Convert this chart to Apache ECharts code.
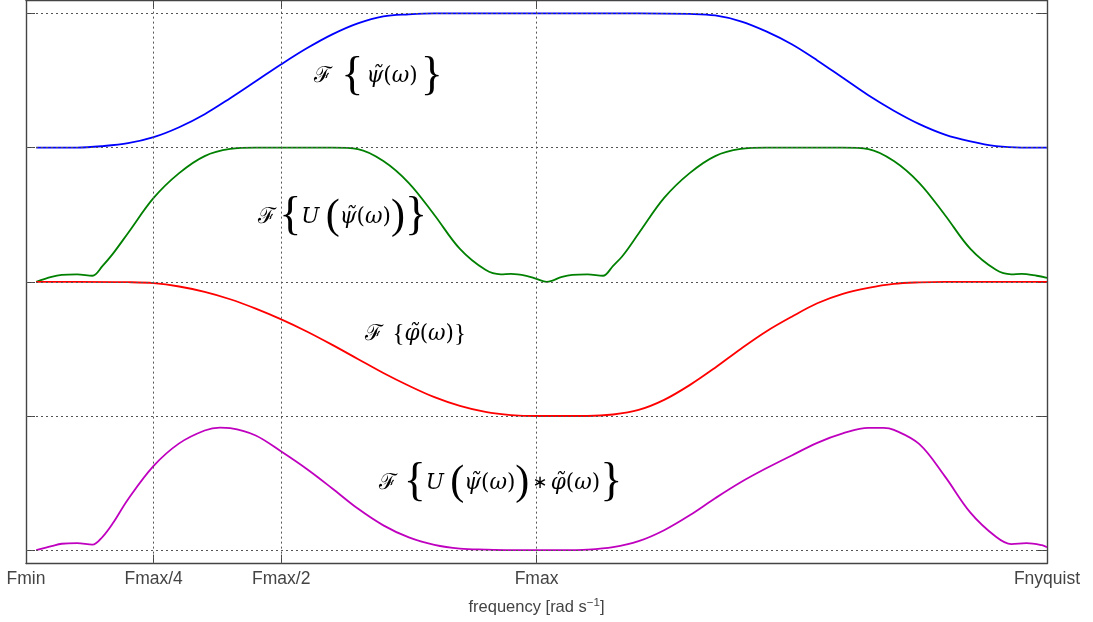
<!DOCTYPE html>
<html>
<head>
<meta charset="utf-8">
<script src="https://cdn.jsdelivr.net/npm/echarts@6/dist/echarts.min.js"></script>
<style>
  html, body { margin: 0; padding: 0; background: #fff; }
  #chart { width: 1093px; height: 622px; }
</style>
</head>
<body>
<div id="chart"></div>
<script>
// Frequency axis (units of Fmax) and its named ticks
const freqTicks = [0, 0.25, 0.5, 1, 2];
const freqTickLabels = ['Fmin', 'Fmax/4', 'Fmax/2', 'Fmax', 'Fnyquist'];
const levelTicks = [0, 1, 2, 3, 4];

// Wavelet spectrum |F{psi~}|, stacked on level 3
const psiFreq = [0.02, 0.05, 0.1, 0.15, 0.2, 0.25, 0.3, 0.35, 0.4, 0.45, 0.5, 0.55, 0.6, 0.65, 0.7, 0.75, 0.8, 0.9, 1.0, 1.1, 1.2, 1.3, 1.35, 1.4, 1.45, 1.5, 1.55, 1.6, 1.65, 1.7, 1.75, 1.8, 1.85, 1.9, 1.95, 2.0];
const psiMag  = [0, 0, 0, 0.011, 0.033, 0.078, 0.152, 0.249, 0.368, 0.494, 0.621, 0.74, 0.844, 0.926, 0.978, 0.993, 1, 1, 1, 1, 1, 0.996, 0.985, 0.941, 0.866, 0.77, 0.65, 0.52, 0.39, 0.275, 0.175, 0.097, 0.046, 0.011, 0, 0];

// Upsampled wavelet spectrum F{U(psi~)}, stacked on level 2
const upFreq = [0.02, 0.05, 0.07, 0.1, 0.13, 0.15, 0.17, 0.2, 0.25, 0.3, 0.35, 0.4, 0.45, 0.5, 0.55, 0.6, 0.65, 0.7, 0.75, 0.8, 0.85, 0.9, 0.93, 0.95, 0.98, 1.0,
                1.02, 1.05, 1.07, 1.1, 1.13, 1.15, 1.17, 1.2, 1.25, 1.3, 1.35, 1.4, 1.45, 1.5, 1.55, 1.6, 1.65, 1.7, 1.75, 1.8, 1.85, 1.9, 1.93, 1.95, 1.98, 2.0];
const upMag  = [0, 0.037, 0.052, 0.056, 0.045, 0.119, 0.208, 0.364, 0.625, 0.81, 0.937, 0.99, 1.0, 1.0, 1.0, 1.0, 0.989, 0.9, 0.736, 0.498, 0.245, 0.089, 0.056, 0.059, 0.045, 0.022,
                0, 0.037, 0.052, 0.056, 0.045, 0.119, 0.2, 0.36, 0.625, 0.81, 0.937, 0.99, 1.0, 1.0, 1.0, 1.0, 0.989, 0.9, 0.736, 0.498, 0.245, 0.089, 0.056, 0.059, 0.045, 0.03];

// Scaling-function spectrum F{phi~}, stacked on level 1
const phiFreq = [0.02, 0.1, 0.2, 0.25, 0.3, 0.35, 0.4, 0.45, 0.5, 0.55, 0.6, 0.65, 0.7, 0.75, 0.8, 0.85, 0.9, 0.95, 1.0, 1.1, 1.15, 1.2, 1.25, 1.3, 1.35, 1.4, 1.45, 1.5, 1.55, 1.6, 1.65, 1.7, 1.75, 1.8, 1.9, 2.0];
const phiMag  = [1, 1, 0.997, 0.99, 0.965, 0.925, 0.87, 0.8, 0.72, 0.63, 0.53, 0.425, 0.32, 0.225, 0.14, 0.075, 0.03, 0.007, 0, 0, 0.011, 0.045, 0.12, 0.23, 0.36, 0.5, 0.63, 0.74, 0.84, 0.91, 0.955, 0.985, 0.996, 1, 1, 1];

// Product spectrum F{U(psi~) * phi~}, on level 0
const prodFreq = [0.02, 0.05, 0.07, 0.1, 0.13, 0.15, 0.17, 0.2, 0.25, 0.3, 0.35, 0.38, 0.4, 0.45, 0.5, 0.55, 0.6, 0.65, 0.7, 0.75, 0.8, 0.85, 0.9, 0.95, 1.05, 1.1, 1.15, 1.2, 1.25, 1.3, 1.35, 1.4, 1.45, 1.5, 1.55, 1.6, 1.65, 1.68, 1.7, 1.75, 1.8, 1.85, 1.9, 1.93, 1.96, 1.99, 2.0];
const prodMag  = [0, 0.03, 0.048, 0.052, 0.041, 0.1, 0.2, 0.38, 0.628, 0.796, 0.892, 0.914, 0.91, 0.855, 0.735, 0.605, 0.46, 0.31, 0.185, 0.095, 0.04, 0.012, 0.004, 0, 0, 0.004, 0.022, 0.067, 0.149, 0.26, 0.387, 0.506, 0.61, 0.706, 0.8, 0.87, 0.912, 0.912, 0.897, 0.79, 0.55, 0.28, 0.1, 0.045, 0.052, 0.037, 0.022];

const curves = [
  { name: 'psi',  freq: psiFreq,  mag: psiMag,  level: 3, color: '#0000ff' },
  { name: 'upsi', freq: upFreq,   mag: upMag,   level: 2, color: '#008000' },
  { name: 'phi',  freq: phiFreq,  mag: phiMag,  level: 1, color: '#ff0000' },
  { name: 'prod', freq: prodFreq, mag: prodMag, level: 0, color: '#bf00bf' }
];

const axisGray = '#444444';
const gridGray = '#555555';

const chart = echarts.init(document.getElementById('chart'), null, { renderer: 'canvas' });

function boxAxis(pos, isX, withLabels) {
  const ax = {
    type: 'value',
    position: pos,
    min: isX ? 0 : -0.1,
    max: isX ? 2 : 4.1,
    axisLine: { show: true, onZero: false, lineStyle: { color: axisGray, width: 1.4 } },
    axisTick: {
      show: true, inside: true, length: 9,
      customValues: isX ? freqTicks.slice(1, 4) : levelTicks,
      lineStyle: { color: axisGray, width: 1 }
    },
    axisLabel: { show: false },
    splitLine: { show: false }
  };
  if (withLabels) {
    ax.axisLabel = {
      show: true,
      customValues: freqTicks,
      formatter: v => freqTickLabels[freqTicks.indexOf(v)] || '',
      color: axisGray,
      fontFamily: 'Liberation Sans',
      fontSize: 17.5,
      margin: 7
    };
    ax.name = '{a|frequency [rad s}{sup|−1}{a|]}';
    ax.nameLocation = 'middle';
    ax.nameGap = 33;
    ax.nameTextStyle = {
      rich: {
        a: { fontFamily: 'Liberation Sans', fontSize: 16.5, color: axisGray },
        sup: { fontFamily: 'Liberation Sans', fontSize: 11.5, color: axisGray, padding: [0, 0, 9, 0] }
      }
    };
  }
  return ax;
}

const gridLines = [];
levelTicks.forEach(v => gridLines.push({ yAxis: v }));
freqTicks.slice(1, 4).forEach(v => gridLines.push({ xAxis: v }));

const series = [{
  type: 'line',
  name: 'grid',
  data: [],
  silent: true,
  z: 1,
  markLine: {
    silent: true,
    symbol: ['none', 'none'],
    label: { show: false },
    lineStyle: { color: gridGray, width: 1, type: [2, 3] },
    emphasis: { disabled: true },
    animation: false,
    data: gridLines
  }
}];

curves.forEach(c => {
  series.push({
    type: 'line',
    name: c.name,
    data: c.freq.map((f, i) => [f, c.level + c.mag[i]]),
    showSymbol: false,
    smooth: 0.35,
    z: 3,
    lineStyle: { color: c.color, width: 1.8 },
    itemStyle: { color: c.color },
    emphasis: { disabled: true },
    animation: false
  });
});

chart.setOption({
  animation: false,
  backgroundColor: '#ffffff',
  grid: { left: 26, right: 46, top: -1.4, height: 565 },
  xAxis: [boxAxis('bottom', true, true), boxAxis('top', true, false)],
  yAxis: [boxAxis('left', false, false), boxAxis('right', false, false)],
  series: series
});

// Formula captions placed in data coordinates
const mathRich = {
  f:  { fontFamily: 'DejaVu Serif', fontSize: 22, fill: '#000' },
  m:  { fontFamily: 'DejaVu Serif', fontStyle: 'italic', fontSize: 21.5, fill: '#000' },
  r:  { fontFamily: 'DejaVu Serif', fontSize: 21.5, fill: '#000' },
  p:  { fontFamily: 'Liberation Serif', fontSize: 42, fill: '#000' },
  s:  { fontFamily: 'DejaVu Serif', fontSize: 10, fill: '#000' },
  op: { fontFamily: 'DejaVu Sans', fontSize: 18, fill: '#000' }
};
const bigBrace = '46px "Liberation Serif"';
const smallBrace = '25px "Liberation Serif"';
const captions = [
  { at: [0.69, 3.53], font: bigBrace,
    text: '{f|ℱ}{s| }{s| }{s| }{{s| }{m|ψ̃}{r|(}{m|ω}{r|)}{s| }}' },
  { at: [0.62, 2.48], font: bigBrace,
    text: '{f|ℱ}{s| }{{m|U}{s| }{s| }{p|(}{m|ψ̃}{r|(}{m|ω}{r|)}{p|)}}' },
  { at: [0.763, 1.61], font: smallBrace,
    text: '{f|ℱ}{s| }{s| }{s| }{{m|φ̃}{r|(}{m|ω}{r|)}}' },
  { at: [0.93, 0.5], font: bigBrace,
    text: '{f|ℱ}{s| }{s| }{{m|U}{s| }{s| }{p|(}{m|ψ̃}{r|(}{m|ω}{r|)}{p|)}{s| }{op|∗}{s| }{m|φ̃}{r|(}{m|ω}{r|)}}' }
];

chart.setOption({
  graphic: captions.map(c => {
    const pt = chart.convertToPixel({ gridIndex: 0 }, c.at);
    return {
      type: 'text',
      x: pt[0],
      y: pt[1],
      z: 10,
      silent: true,
      style: {
        text: c.text,
        font: c.font,
        fill: '#000',
        align: 'center',
        verticalAlign: 'middle',
        rich: mathRich
      }
    };
  })
});
</script>
</body>
</html>
